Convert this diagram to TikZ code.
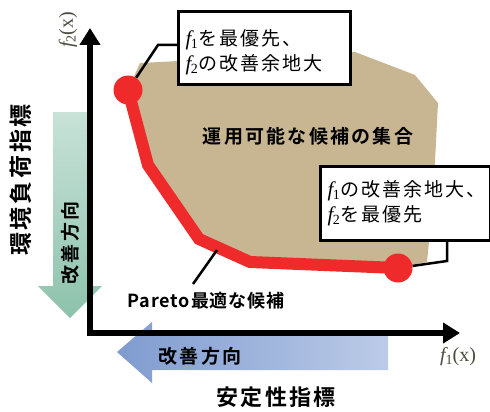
\documentclass[tikz,border=0pt]{standalone}
\usepackage{fontspec}
\setmainfont{Liberation Serif}
\newfontfamily\jp{Noto Sans CJK JP}[BoldFont={Noto Sans CJK JP Bold}]
\usetikzlibrary{arrows.meta}
\definecolor{feas}{HTML}{C8B592}
\definecolor{pred}{HTML}{EE2A2A}
\definecolor{gtop}{HTML}{C8E2D8}
\definecolor{gbot}{HTML}{8DC2AC}
\definecolor{bleft}{HTML}{7F9BCF}
\definecolor{bright}{HTML}{BCCBE8}
\definecolor{axlab}{HTML}{4A4A3E}
\newcommand\fsub[1]{{\rmfamily\itshape\fontsize{21}{21}\selectfont f}\kern-0.5pt\raisebox{-0.3ex}{\rmfamily\fontsize{14}{14}\selectfont #1}\kern1pt}
\tikzset{
  cbox/.style={draw=black, line width=3pt, fill=white, anchor=north west,
    inner xsep=6pt, align=left, font=\jp\fontsize{19}{25}\selectfont\addfontfeature{LetterSpace=10}},
  boldlab/.style={font=\jp\bfseries\fontsize{19}{19}\selectfont\addfontfeature{LetterSpace=12}, inner sep=0pt},
  leader/.style={line width=2.5pt, black},
  dotnode/.style={circle, fill=pred, minimum size=29pt, inner sep=0pt},
  axislab/.style={text=axlab, font=\fontsize{20}{20}\selectfont, inner sep=0pt}
}
\begin{document}
\begin{tikzpicture}[x=1pt,y=-1pt]
\useasboundingbox (0,0) rectangle (490,412);
% improvement arrows
\shade[top color=gtop, bottom color=gbot] (53,112) -- (87,112) -- (87,286) -- (102,286) -- (70,318) -- (38,286) -- (53,286) -- cycle;
\shade[left color=bleft, right color=bright] (388,335) -- (152,335) -- (152,322) -- (117,352) -- (152,383) -- (152,370) -- (388,370) -- cycle;
% feasible region
\fill[feas] (128,90) -- (140,63) -- (355,52) -- (415,75) -- (438,103) -- (433,200) -- (427,262) -- (398,268) -- (250,262) -- (199,239) -- (148,165) -- cycle;
% axes
\draw[line width=6pt, line join=miter, {Triangle[width=20pt,length=17pt]}-{Triangle[width=20pt,length=17pt]}] (90,28) -- (90,333) -- (460,333);
% pareto front
\node[dotnode] (dot1) at (128,90) {};
\node[dotnode] (dot2) at (398,268) {};
\coordinate (p1) at (148,165);
\coordinate (p2) at (199,239);
\coordinate (p3) at (250,262);
\draw[pred, line width=12pt, line join=miter] (dot1.center) -- (p1) -- (p2) -- (p3) -- (dot2.center);
% callouts
\node[cbox, minimum width=172pt, minimum height=73pt, text width=158pt] (box1) at (177,10)
  {\rule{0pt}{25pt}\fsub{1}を最優先、\\\fsub{2}の改善余地大};
\node[cbox, minimum width=170pt, minimum height=74pt, text width=156pt] (box2) at (319,165)
  {\fsub{1}の改善余地大、\\\fsub{2}を最優先};
\coordinate (k1) at (158,45);
\draw[leader] (box1.west |- k1) -- (k1) -- (dot1);
\coordinate (k2) at (447,261);
\draw[leader] (box2.south -| k2) -- (k2) -- (dot2);
% labels
\node[boldlab] (feaslab) at (308,136) {運用可能な候補の集合};
\node[boldlab, font=\jp\bfseries\fontsize{18}{18}\selectfont\addfontfeature{LetterSpace=5}] (parlab) at (206,301) {Pareto最適な候補};
\coordinate (pf) at (217,250);
\coordinate (pe) at (193,284);
\draw[leader] (pf) -- (pe);
\node[boldlab, rotate=90] (gtext) at (70,243) {改善方向};
\node[boldlab] (btext) at (200,356) {改善方向};
\node[boldlab, font=\jp\bfseries\fontsize{23}{23}\selectfont\addfontfeature{LetterSpace=12}, rotate=90] (ylab) at (21,180) {環境負荷指標};
\node[boldlab, font=\jp\bfseries\fontsize{22}{22}\selectfont\addfontfeature{LetterSpace=10}] (xlab) at (276,397) {安定性指標};
\node[axislab, rotate=90] (f2lab) at (68,30) {{\itshape f}\raisebox{-0.3ex}{\fontsize{14}{14}\selectfont 2}(x)};
\node[axislab] (f1lab) at (458,357) {{\itshape f}\raisebox{-0.3ex}{\fontsize{14}{14}\selectfont 1}(x)};
\end{tikzpicture}
\end{document}
